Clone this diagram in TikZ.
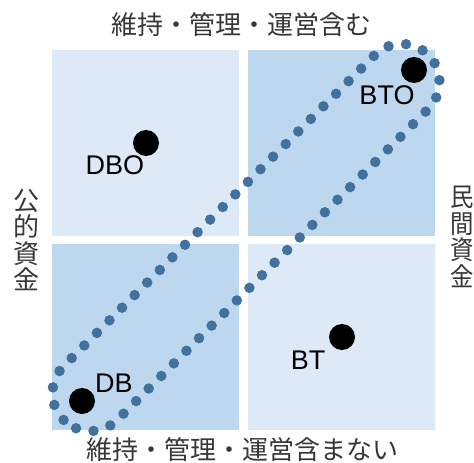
\documentclass[tikz,border=0pt]{standalone}
\usepackage{fontspec}
\setmainfont{Liberation Sans}
\newfontfamily\jpfont{Noto Sans CJK JP}
\definecolor{lightq}{RGB}{222,233,247}
\definecolor{darkq}{RGB}{189,215,238}
\definecolor{dotc}{RGB}{65,113,156}
\definecolor{jtext}{RGB}{55,55,55}
\begin{document}
\begin{tikzpicture}[x=1pt,y=-1pt,
  quad/.style={draw=none, minimum width=187pt, minimum height=186pt, inner sep=0pt},
  pt/.style={circle, fill=black, minimum size=26pt, inner sep=0pt},
  lbl/.style={font=\fontsize{27}{30}\selectfont, inner sep=0pt},
  jlbl/.style={font=\jpfont\fontsize{26}{26.5}\selectfont, text=jtext, inner sep=0pt},
  vlbl/.style={jlbl, align=center},
  dotring/.style={draw=dotc, line width=10.5pt, line cap=round, dash pattern=on 0pt off 17.8pt}]
\useasboundingbox (0,0) rectangle (474,463);
\node[quad, fill=lightq] (tl) at (145.5,142.5) {};
\node[quad, fill=darkq]  (tr) at (341.5,142.5) {};
\node[quad, fill=darkq]  (bl) at (145.5,337) {};
\node[quad, fill=lightq] (br) at (341.5,337) {};
\begin{scope}[shift={(246,237.5)}, y=1pt, rotate=45]
  \draw[dotring, rounded corners=38pt] (-258,-38) rectangle (258,38);
\end{scope}
\node[pt] (dbo) at (146,143) {};
\node[lbl] (dbol) at (115,165) {DBO};
\node[pt] (bto) at (414,70) {};
\node[lbl] (btol) at (387,95) {BTO};
\node[pt] (db) at (82,401) {};
\node[lbl] (dbl) at (114,383) {DB};
\node[pt] (bt) at (342,337) {};
\node[lbl] (btl) at (308,360) {BT};
\node[jlbl] (top) at (241.5,25) {維持・管理・運営含む};
\node[jlbl] (bottom) at (242.5,450) {維持・管理・運営含まない};
\node[vlbl] (left) at (26,240) {公\\的\\資\\金};
\node[vlbl, xscale=0.9] (right) at (462,237) {民\\間\\資\\金};
\end{tikzpicture}
\end{document}
